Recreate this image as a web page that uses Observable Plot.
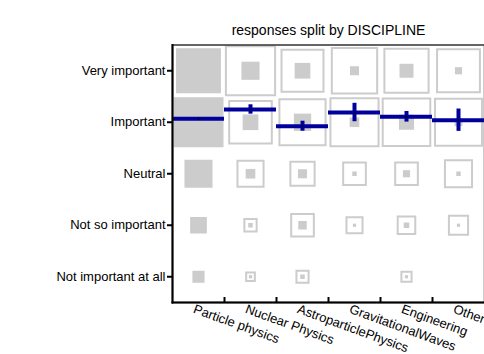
<!DOCTYPE html>
<html><head><meta charset="utf-8">
<script src="https://cdn.jsdelivr.net/npm/d3@7"></script>
<script src="https://cdn.jsdelivr.net/npm/@observablehq/plot@0.6"></script>
<style>body{margin:0;background:#fff;}</style>
</head><body><div id="chart"></div>
<script>
const disciplines = ["Particle physics","Nuclear Physics","AstroparticlePhysics","GravitationalWaves","Engineering","Other"];
const responses = ["Very important","Important","Neutral","Not so important","Not important at all"];
const responseScores = [5,4,3,2,1];
// counts per response (Very important ... Not important at all), read from the square sizes
const particleCounts = [179,224,66,21,10];
const nuclearCounts = [32,24,9,2,1];
const astroCounts = [24,29,8,7,2];
const gravCounts = [8,9,2,1,0];
const engCounts = [19,22,5,3,1];
const otherCounts = [5,6,2,1,0];
// mean score (5 = Very important) and its error
const meanScores = [4.067,4.248,3.923,4.189,4.106,4.04];
const meanErrors = [0.02,0.091,0.097,0.179,0.103,0.217];
const title = "responses split by DISCIPLINE";

const countsByDiscipline = [particleCounts, nuclearCounts, astroCounts, gravCounts, engCounts, otherCounts];
const refTotal = d3.sum(particleCounts);
const cells = [];
disciplines.forEach((d, i) => {
  const counts = countsByDiscipline[i];
  const total = d3.sum(counts);
  counts.forEach((c, j) => cells.push({discipline: d, score: responseScores[j], count: c, expected: c / total * refTotal}));
});
const means = disciplines.map((d, i) => ({discipline: d, mean: meanScores[i], err: meanErrors[i]}));

const font = "'Liberation Sans', Arial, Helvetica, sans-serif";
const blue = "#00009c";
const gray = "#cccccc";

const plot = Plot.plot({
  width: 484, height: 354,
  marginTop: 44.5, marginBottom: 52, marginLeft: 172, marginRight: 0,
  style: {fontFamily: font, fontSize: "13px", color: "black", background: "white"},
  x: {type: "band", domain: disciplines, padding: 0, axis: null},
  y: {domain: [0.5, 5.5], axis: null},
  r: {type: "sqrt", domain: [0, 224], range: [0, 48 / Math.sqrt(Math.PI)]},
  marks: [
    Plot.dot(cells, {x: "discipline", y: "score", r: "expected", symbol: "square", fill: "none", stroke: gray, strokeWidth: 2}),
    Plot.dot(cells, {x: "discipline", y: "score", r: "count", symbol: "square", fill: gray, stroke: "none"}),
    Plot.tickY(means, {x: "discipline", y: "mean", stroke: blue, strokeWidth: 4}),
    Plot.ruleX(means, {x: "discipline", y1: d => d.mean - d.err, y2: d => d.mean + d.err, stroke: blue, strokeWidth: 4}),
    Plot.dot(means, {x: "discipline", y: "mean", r: 1, fill: "black"}),
    Plot.frame({stroke: "#333", strokeWidth: 1.5}),
    Plot.frame({anchor: "left", stroke: "black", strokeWidth: 2}),
    Plot.frame({anchor: "bottom", stroke: "black", strokeWidth: 2}),
    Plot.axisY({ticks: responseScores, tickFormat: s => responses[5 - s], tickSize: 5, tickPadding: 2, strokeWidth: 2, fontSize: 13, label: null}),
    Plot.axisX({ticks: disciplines.slice(0, 5), tickSize: -5, dx: 26, tickFormat: () => "", strokeWidth: 2, label: null}),
    Plot.text(disciplines, {x: d => d, frameAnchor: "bottom", dy: 10, dx: -6, rotate: 20, textAnchor: "start", lineAnchor: "bottom", fontSize: 13}),
    Plot.text([title], {frameAnchor: "top", dy: -10, lineAnchor: "bottom", fontSize: 14})
  ]
});
document.getElementById("chart").appendChild(plot);
</script>
</body></html>
